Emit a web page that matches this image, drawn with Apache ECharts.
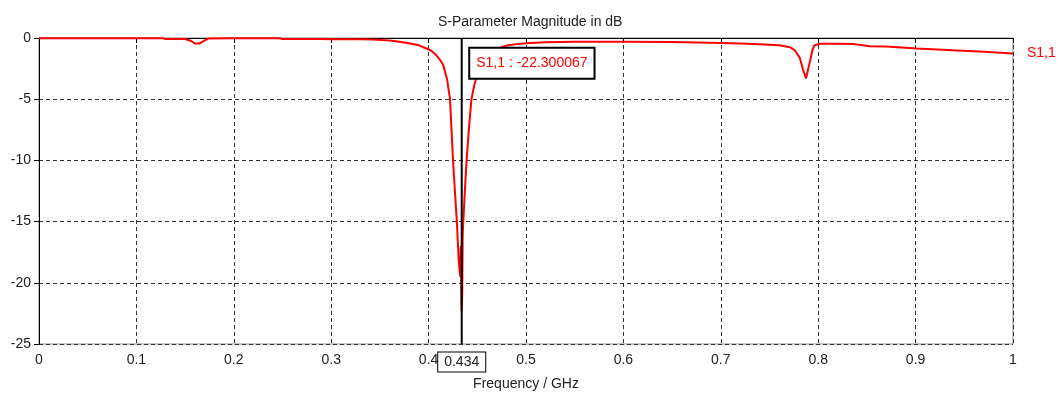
<!DOCTYPE html>
<html>
<head>
<meta charset="utf-8">
<script src="https://cdn.jsdelivr.net/npm/echarts@6/dist/echarts.min.js"></script>
<style>html,body{margin:0;padding:0;background:#fff;}#c{width:1063px;height:396px;}</style>
</head>
<body>
<div id="c"></div>
<script>
const titleText = 'S-Parameter Magnitude in dB';
const xName = 'Frequency / GHz';
const seriesName = 'S1,1';
const markerFreq = 0.434;
const markerValue = -22.300067;
const markerLabelY = -2.07;

const freq = [0, 0.05, 0.1, 0.127, 0.13, 0.15, 0.155, 0.16, 0.165, 0.168, 0.1735, 0.2, 0.247, 0.25, 0.29, 0.3, 0.33, 0.343, 0.36, 0.37, 0.381, 0.39, 0.396, 0.402, 0.4066, 0.411, 0.415, 0.419, 0.422, 0.425, 0.427, 0.429, 0.431, 0.4325, 0.433, 0.4338, 0.4345, 0.435, 0.437, 0.439, 0.4415, 0.444, 0.447, 0.45, 0.455, 0.46, 0.465, 0.47, 0.475, 0.48, 0.49, 0.5, 0.52, 0.55, 0.6, 0.65, 0.7, 0.72, 0.74, 0.76, 0.771, 0.776, 0.781, 0.7845, 0.7875, 0.7895, 0.7916, 0.794, 0.796, 0.802, 0.82, 0.837, 0.853, 0.87, 0.901, 0.938, 0.97, 1.0];
const s11 = [-0.02, -0.02, -0.02, -0.02, -0.08, -0.08, -0.2, -0.45, -0.45, -0.3, -0.05, -0.02, -0.02, -0.08, -0.08, -0.1, -0.1, -0.12, -0.2, -0.3, -0.45, -0.6, -0.8, -1.0, -1.3, -1.7, -2.2, -3.4, -5.0, -9.9, -12.5, -15.0, -18.3, -19.5, -17.0, -22.3, -21.0, -16.0, -12.8, -10.0, -7.3, -5.0, -3.8, -3.0, -2.2, -1.6, -1.2, -0.9, -0.75, -0.62, -0.5, -0.42, -0.35, -0.3, -0.3, -0.33, -0.4, -0.45, -0.52, -0.6, -0.75, -1.0, -1.6, -2.6, -3.3, -2.6, -1.9, -1.0, -0.6, -0.47, -0.47, -0.5, -0.67, -0.7, -0.85, -1.0, -1.12, -1.26];

const xTicks = [0, 0.1, 0.2, 0.3, 0.4, 0.5, 0.6, 0.7, 0.8, 0.9, 1];
const yTicks = [-25, -20, -15, -10, -5, 0];
const yMin = -25, yMax = 0;

const data = freq.map((f, i) => [f, s11[i]]);
const markerLine = [[markerFreq, yMin], [markerFreq, yMax]];
const FONT = 'Liberation Sans';

const chart = echarts.init(document.getElementById('c'), null, {renderer: 'canvas'});
chart.setOption({
  animation: false,
  backgroundColor: '#ffffff',
  title: {
    text: titleText, left: 433, top: 10,
    textStyle: {fontFamily: FONT, fontSize: 14, fontWeight: 'normal', color: '#222'}
  },
  grid: {left: 39, right: 50, top: 38, bottom: 50, show: true, borderColor: '#888', borderWidth: 1, backgroundColor: 'transparent'},
  xAxis: {
    type: 'value', min: 0, max: 1, interval: 0.1,
    name: xName, nameLocation: 'middle', nameGap: 33,
    nameTextStyle: {fontFamily: FONT, fontSize: 14, color: '#222'},
    axisLine: {show: true, lineStyle: {color: '#000', width: 1}},
    axisTick: {show: true, length: 5, lineStyle: {color: '#000'}},
    axisLabel: {fontFamily: FONT, fontSize: 14, color: '#222', margin: 9,
      formatter: v => { const t = xTicks.find(x => Math.abs(x - v) < 1e-9); return t === undefined ? '' : String(t); }},
    splitLine: {show: true, lineStyle: {color: '#333', type: [4, 3], width: 1}}
  },
  yAxis: {
    type: 'value', min: yMin, max: yMax, interval: 5,
    axisLine: {show: true, lineStyle: {color: '#000', width: 1}},
    axisTick: {show: true, length: 5, lineStyle: {color: '#000'}},
    axisLabel: {fontFamily: FONT, fontSize: 14, color: '#222', margin: 8,
      formatter: v => { const t = yTicks.find(y => Math.abs(y - v) < 1e-9); return t === undefined ? '' : String(t); }},
    splitLine: {show: true, lineStyle: {color: '#333', type: [4, 3], width: 1}}
  },
  series: [{
    name: seriesName, type: 'line', data: data, showSymbol: false, smooth: false, z: 2,
    lineStyle: {color: '#ff0000', width: 2}, itemStyle: {color: '#ff0000'},
    endLabel: {show: true, formatter: seriesName, color: '#ff0000', fontFamily: FONT, fontSize: 14, distance: 14}
  }, {
    name: 'marker', type: 'line', data: markerLine, showSymbol: false, z: 3, silent: true,
    lineStyle: {color: '#000', width: 2}, itemStyle: {color: '#000'},
    markPoint: {
      silent: true, animation: false, symbol: 'rect', symbolSize: 1, itemStyle: {color: 'rgba(0,0,0,0)'},
      data: [{
        coord: [markerFreq, markerLabelY],
        label: {show: true, position: 'right', distance: 8, formatter: seriesName + ' : ' + markerValue.toFixed(6),
          fontFamily: FONT, fontSize: 14, color: '#ff0000', backgroundColor: '#fff', borderColor: '#000', borderWidth: 2, padding: [8, 6, 7, 6]}
      }, {
        coord: [markerFreq, yMin],
        label: {show: true, position: 'bottom', distance: 8, formatter: String(markerFreq),
          fontFamily: FONT, fontSize: 14, color: '#222', backgroundColor: '#fff', borderColor: '#000', borderWidth: 1, padding: [3, 6, 2, 6]}
      }]
    }
  }]
});
</script>
</body>
</html>
